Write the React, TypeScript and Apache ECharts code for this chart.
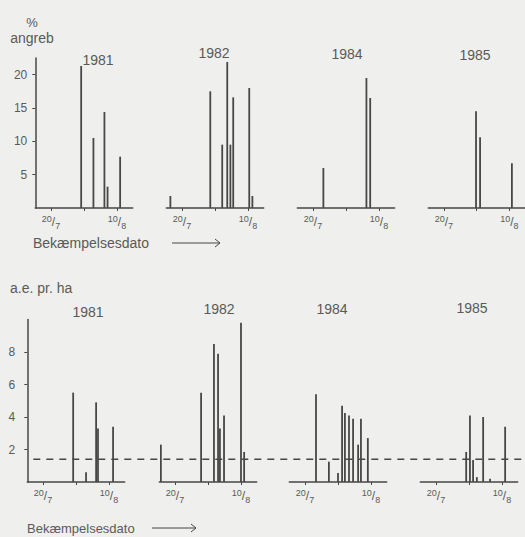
import React, { useEffect, useRef } from 'react';
import * as echarts from 'echarts';

// Spray dates are stored as day-of-July (1 August = 32).
const dateMin = 15; // 15/7
const dateMax = 46; // 15/8
const dateTicks = [20, 30.5, 41];
const dateLabelTicks = [20, 41];

const years = ['1981', '1982', '1984', '1985'];

// Top row: % angreb (attack) per spray date
const attack1981 = [[29.6, 21.3], [33.5, 10.5], [37, 14.4], [38, 3.2], [42, 7.7]];
const attack1982 = [[16.3, 1.8], [29, 17.5], [32.8, 9.5], [34.4, 21.9], [35.4, 9.5], [36.3, 16.6], [41.4, 18], [42.4, 1.8]];
const attack1984 = [[23.3, 6.0], [37, 19.5], [38.2, 16.5]];
const attack1985 = [[30.3, 14.5], [31.6, 10.6], [41.8, 6.7]];

// Bottom row: a.e. pr. ha per spray date
const dose1981 = [[29.6, 5.5], [33.7, 0.6], [36.9, 4.9], [37.5, 3.3], [42.3, 3.4]];
const dose1982 = [[15.5, 2.3], [28.3, 5.5], [32.4, 8.5], [33.7, 7.9], [34.3, 3.3], [35.6, 4.1], [41, 9.8], [42, 1.85]];
const dose1984 = [[23.5, 5.4], [27.6, 1.25], [30.5, 0.55], [31.8, 4.7], [32.7, 4.25], [34, 4.1], [35.3, 3.9], [36.9, 2.3], [37.8, 3.9], [40, 2.7]];
const dose1985 = [[29.6, 1.85], [30.8, 4.1], [31.8, 1.35], [33, 0.3], [35, 4.0], [37.2, 0.2], [42, 3.4]];

const doseThreshold = 1.4;

const attackTicks = [5, 10, 15, 20];
const doseTicks = [2, 4, 6, 8];

const attackSeries = [attack1981, attack1982, attack1984, attack1985];
const doseSeries = [dose1981, dose1982, dose1984, dose1985];

const INK = '#474745';
const TEXT = '#5a5a58';
const BG = '#efefed';
const FONT = '"Liberation Sans", Arial, Helvetica, sans-serif';

const topLefts = [35.3, 166.3, 297.3, 428.3];
const bottomLefts = [27.3, 159.3, 289.3, 420.3];
const panelWidth = 97.4;

const dateFormatter = (v: number) =>
  v === 20 ? '{s|20}{d|/}{b|7}' : '{s|10}{d|/}{b|8}';

const dateRich = {
  s: { fontSize: 9, lineHeight: 9, verticalAlign: 'top', color: TEXT, fontFamily: FONT },
  d: { fontSize: 12, lineHeight: 16, color: TEXT, fontFamily: FONT },
  b: { fontSize: 9, lineHeight: 9, verticalAlign: 'bottom', color: TEXT, fontFamily: FONT },
};

function xAxisFor(gridIndex: number) {
  return {
    type: 'value',
    gridIndex,
    min: dateMin,
    max: dateMax,
    axisLine: { show: true, onZero: false, lineStyle: { color: INK, width: 1.5 } },
    axisTick: { show: true, customValues: dateTicks, length: 3, lineStyle: { color: INK, width: 1 } },
    axisLabel: {
      show: true,
      customValues: dateLabelTicks,
      formatter: dateFormatter,
      rich: dateRich,
      margin: 6,
    },
    splitLine: { show: false },
  };
}

function yAxisFor(gridIndex: number, max: number, ticks: number[], visible: boolean, margin: number) {
  return {
    type: 'value',
    gridIndex,
    min: 0,
    max,
    show: visible,
    axisLine: { show: true, lineStyle: { color: INK, width: 1.5 } },
    axisTick: { show: true, customValues: ticks, length: 3, lineStyle: { color: INK } },
    axisLabel: {
      show: true,
      customValues: ticks,
      color: TEXT,
      fontSize: 12,
      fontFamily: FONT,
      margin,
    },
    splitLine: { show: false },
  };
}

function arrow(x1: number, x2: number, y: number) {
  return [
    { type: 'line', shape: { x1, y1: y, x2, y2: y }, style: { stroke: INK, lineWidth: 1 } },
    {
      type: 'polyline',
      shape: { points: [[x2 - 5, y - 4], [x2, y], [x2 - 5, y + 4]] },
      style: { stroke: INK, lineWidth: 1, fill: 'none' },
    },
  ];
}

function text(str: string, x: number, y: number, size: number, align = 'left') {
  return {
    type: 'text',
    x,
    y,
    style: {
      text: str,
      fill: TEXT,
      fontSize: size,
      fontFamily: FONT,
      textAlign: align,
      textVerticalAlign: 'middle',
    },
  };
}

export default function App() {
  const ref = useRef<HTMLDivElement>(null);

  useEffect(() => {
    if (!ref.current) return;
    const chart = echarts.init(ref.current, undefined, { renderer: 'svg' });

    const grids: any[] = [];
    const xAxes: any[] = [];
    const yAxes: any[] = [];
    const series: any[] = [];

    topLefts.forEach((left, i) => {
      grids.push({ left, top: 58, width: panelWidth, height: 150 });
      xAxes.push(xAxisFor(i));
      yAxes.push(yAxisFor(i, 22.5, attackTicks, i === 0, 8));
      series.push({
        type: 'bar',
        xAxisIndex: i,
        yAxisIndex: i,
        barWidth: 1.8,
        data: attackSeries[i],
        itemStyle: { color: INK },
      });
    });

    bottomLefts.forEach((left, i) => {
      const idx = i + 4;
      grids.push({ left, top: 319.5, width: panelWidth, height: 162.5 });
      xAxes.push(xAxisFor(idx));
      yAxes.push(yAxisFor(idx, 10, doseTicks, i === 0, 12));
      series.push({
        type: 'bar',
        xAxisIndex: idx,
        yAxisIndex: idx,
        barWidth: 1.8,
        data: doseSeries[i],
        itemStyle: { color: INK },
      });
    });

    chart.setOption({
      animation: false,
      backgroundColor: BG,
      grid: grids,
      xAxis: xAxes,
      yAxis: yAxes,
      series,
    });

    // Threshold line runs across all four lower panels
    const yLine = chart.convertToPixel({ yAxisIndex: 4 }, doseThreshold) as number;
    const xStart = (chart.convertToPixel({ xAxisIndex: 4 }, dateMin) as number) + 6;

    const topYearX = [98, 214, 347, 475];
    const topYearY = [60, 53, 54, 55];
    const botYearX = [88, 219, 332, 472];
    const botYearY = [312, 309, 309, 308];

    const graphics: any[] = [
      text('%', 32, 22, 13, 'center'),
      text('angreb', 32, 38, 14, 'center'),
      text('a.e. pr. ha', 10, 288, 14),
      ...years.map((y, i) => text(y, topYearX[i], topYearY[i], 14, 'center')),
      ...years.map((y, i) => text(y, botYearX[i], botYearY[i], 14, 'center')),
      text('Bekæmpelsesdato', 33, 243, 14),
      ...arrow(172, 220, 243),
      text('Bekæmpelsesdato', 27, 528, 13),
      ...arrow(152, 196, 528),
      {
        type: 'line',
        shape: { x1: xStart, y1: yLine, x2: 525, y2: yLine },
        style: { stroke: INK, lineWidth: 1.5, lineDash: [7, 6] },
      },
    ];

    chart.setOption({ graphic: graphics });

    return () => chart.dispose();
  }, []);

  return (
    <div
      ref={ref}
      style={{ position: 'fixed', left: 0, top: 0, width: 525, height: 537 }}
    />
  );
}
